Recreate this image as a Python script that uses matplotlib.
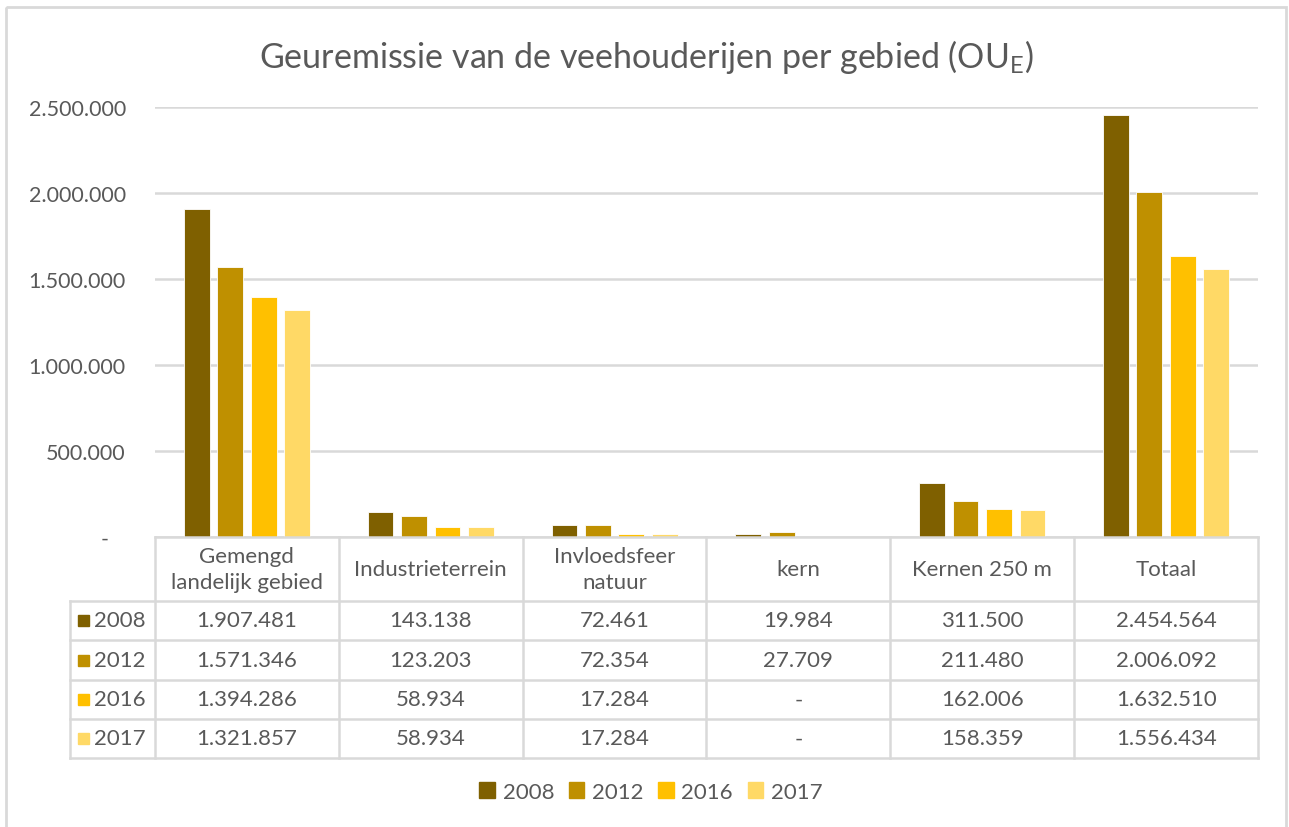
import numpy as np
import matplotlib
matplotlib.use('Agg')
import matplotlib.pyplot as plt
import matplotlib.patches as patches
from matplotlib.ticker import FuncFormatter

# data
categories = ['Gemengd\nlandelijk gebied', 'Industrieterrein', 'Invloedsfeer\nnatuur',
              'kern', 'Kernen 250 m', 'Totaal']
years = ['2008', '2012', '2016', '2017']
v2008 = [1907481, 143138, 72461, 19984, 311500, 2454564]
v2012 = [1571346, 123203, 72354, 27709, 211480, 2006092]
v2016 = [1394286, 58934, 17284, 0, 162006, 1632510]
v2017 = [1321857, 58934, 17284, 0, 158359, 1556434]
series = [v2008, v2012, v2016, v2017]
colors = ['#7F6000', '#BF9000', '#FFC000', '#FFD966']
yticks = [0, 500000, 1000000, 1500000, 2000000, 2500000]

W, H = 1289, 828
TXT = '#595959'
LINE = '#D9D9D9'
FS = 16
plt.rcParams['font.family'] = ['Lato', 'DejaVu Sans']


def nl(v):
    # dutch thousands separator, zero as dash
    if v == 0:
        return '-'
    return '{:,.0f}'.format(v).replace(',', '.')


fig = plt.figure(figsize=(W / 100, H / 100), dpi=100)
ax = fig.add_axes([155 / W, 1 - 538 / H, (1258 - 155) / W, (538 - 108) / H])

x = np.arange(len(categories))
step = 0.182
width = 0.14
for i, (vals, c) in enumerate(zip(series, colors)):
    ax.bar(x + (i - 1.5) * step, vals, width, color=c, edgecolor='white',
           linewidth=0.6, zorder=3)

ax.set_xlim(-0.5, len(categories) - 0.5)
ax.set_ylim(0, 2500000)
ax.set_yticks(yticks)
ax.yaxis.set_major_formatter(FuncFormatter(lambda v, p: '-   ' if v == 0 else nl(v)))
ax.tick_params(axis='y', length=0, pad=21, labelsize=15.5, labelcolor=TXT)
ax.set_xticks([])
ax.grid(axis='y', color=LINE, linewidth=1.8, zorder=0)
for s in ax.spines.values():
    s.set_visible(False)

# table drawn on an overlay in pixel coordinates
ov = fig.add_axes([0, 0, 1, 1], zorder=5)
ov.set_xlim(0, W)
ov.set_ylim(H, 0)
ov.axis('off')
ov.patch.set_alpha(0)

# column edges from the bar axes scale
edges = [ax.transData.transform((k - 0.5, 0))[0] for k in range(len(categories) + 1)]
left = 70
top, head = 538, 602
rows = [602, 641, 681, 720, 759]
lw = 1.8
ov.plot([edges[0], edges[-1]], [top, top], color=LINE, lw=lw)
for r in rows:
    ov.plot([left, edges[-1]], [r, r], color=LINE, lw=lw)
for e in edges:
    ov.plot([e, e], [top, rows[-1]], color=LINE, lw=lw)
ov.plot([left, left], [head, rows[-1]], color=LINE, lw=lw)

for k, cat in enumerate(categories):
    cx = (edges[k] + edges[k + 1]) / 2
    ov.text(cx, (top + head) / 2, cat, ha='center', va='center', fontsize=FS,
            color=TXT, linespacing=1.4)
    for i, vals in enumerate(series):
        cy = (rows[i] + rows[i + 1]) / 2
        ov.text(cx, cy, nl(vals[k]), ha='center', va='center', fontsize=FS, color=TXT)

for i, (yr, c) in enumerate(zip(years, colors)):
    cy = (rows[i] + rows[i + 1]) / 2
    ov.add_patch(patches.Rectangle((78, cy - 5.5), 11, 11, color=c))
    ov.text(94, cy, yr, ha='left', va='center', fontsize=FS, color=TXT)

# title
ov.text(W / 2 + 2, 57, 'Geuremissie van de veehouderijen per gebied (OU$_\\mathregular{E}$)',
        ha='center', va='center', fontsize=24.5, color=TXT)

# legend
handles = [patches.Patch(color=c, label=yr) for yr, c in zip(years, colors)]
fig.legend(handles=handles, loc='center', bbox_to_anchor=(651 / W, 1 - 793 / H), ncol=4,
           frameon=False, fontsize=FS, labelcolor=TXT, handlelength=0.7,
           handleheight=0.7, handletextpad=0.35, columnspacing=0.65)

# chart border
ov.add_patch(patches.Rectangle((6, 8), 1280, 830, fill=False, edgecolor=LINE, lw=2))

fig.savefig('out.png', dpi=100)
